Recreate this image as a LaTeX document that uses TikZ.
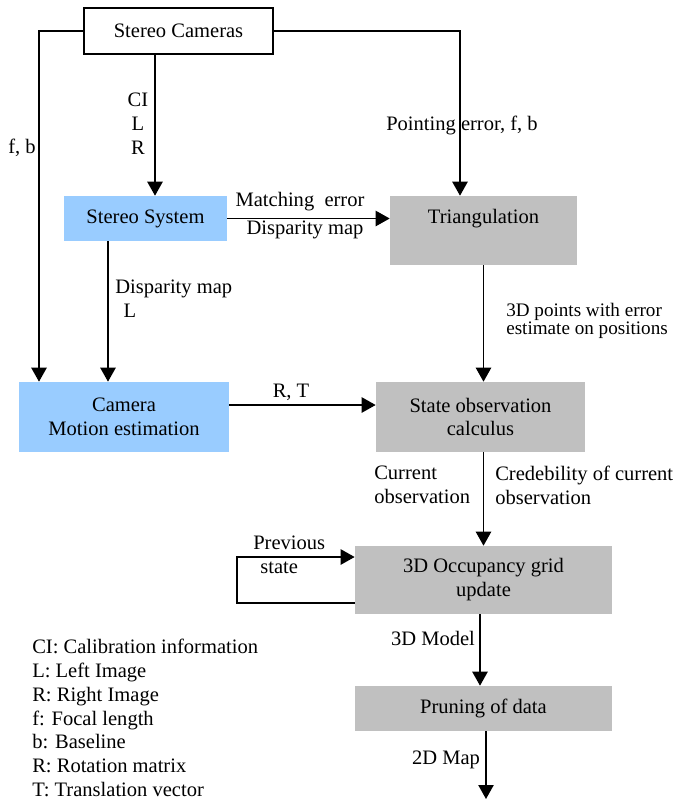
\documentclass[tikz,border=0pt]{standalone}
\usepackage{fontspec}
\setmainfont{Liberation Serif}
\usetikzlibrary{arrows.meta}
\definecolor{bluebox}{RGB}{153,204,255}
\definecolor{graybox}{RGB}{192,192,192}
\newcommand\tightlines{\fontsize{13.6}{13}\selectfont\lineskiplimit=-20pt\relax}
\tikzset{
  arr/.style={-{Triangle[length=0.35cm,width=0.38cm]},line width=1.3pt},
  bluefill/.style={fill=bluebox,align=center,inner sep=0pt},
  grayfill/.style={fill=graybox,align=center,inner sep=0pt},
  txt/.style={inner sep=0pt}
}

\begin{document}
\begin{tikzpicture}[x=0.025cm,y=-0.025cm,font=\fontsize{14.6}{17}\selectfont]
    \useasboundingbox (0,0) rectangle (675,802);
    \node[draw,line width=0.8pt,minimum width=4.725cm,minimum height=1.15cm,inner sep=0pt] (cams) at (178.5,31) {Stereo Cameras};
    \node[bluefill,minimum width=4.075cm,minimum height=1.125cm] (stereo) at (145.5,218.5) {Stereo System};
    \node[grayfill,minimum width=4.675cm,minimum height=1.725cm,text height=0.4cm,text depth=0.775cm] (tri) at (483.5,230.5) {Triangulation};
    \node[bluefill,minimum width=5.25cm,minimum height=1.75cm] (cam) at (124,417) {Camera\\Motion estimation};
    \node[grayfill,minimum width=5.225cm,minimum height=1.75cm] (state) at (480.5,417) {State observation\\calculus};
    \node[grayfill,minimum width=6.425cm,minimum height=1.7cm] (occ) at (483.5,580) {3D Occupancy grid\\update};
    \node[grayfill,minimum width=6.425cm,minimum height=1.125cm] (prune) at (483.5,708.5) {Pruning of data};
%    line positions
    \coordinate (fbx) at (39,0);
    \coordinate (cix) at (155,0);
    \coordinate (ptx) at (460,0);
    \coordinate (dmx) at (108,0);
    \coordinate (rty) at (0,405);
    \coordinate (mdx) at (480,0);
    \coordinate (mpx) at (486,0);
    \coordinate (pa) at (237,603);
    \coordinate (pb) at (237,557);
    \coordinate (out) at (486,799);
    \draw[arr] (cams.west) -| (cam.north -| fbx);
    \draw[arr] (cams.east) -| (tri.north -| ptx);
    \draw[arr] (cams.south -| cix) -- (stereo.north -| cix);
    \draw[arr] (stereo.east) -- (stereo.east -| tri.west);
    \draw[arr] (stereo.south -| dmx) -- (cam.north -| dmx);
    \draw[arr] (tri.south) -- (state.north -| tri.south);
    \draw[arr] (cam.east |- rty) -- (state.west |- rty);
    \draw[arr] (state.south -| occ.north) -- (occ.north);
    \draw[arr] (occ.west |- pa) -- (pa) -- (pb) -- (occ.west |- pb);
    \draw[arr] (occ.south -| mdx) -- (prune.north -| mdx);
    \draw[arr] (prune.south -| mpx) -- (out);
%    labels
    \node[txt] (fb) at (22,148) {f, b};
    \node[txt,align=center] (cilr) at (138,124) {CI\\L\\R};
    \node[txt] (pterr) at (462,125) {Pointing error, f, b};
    \node[txt] (merr) at (300,202) {Matching\ \ error};
    \node[txt] (dmap) at (305,230) {Disparity map};
    \node[txt,align=left,anchor=west] (dmapl) at (115,299) {Disparity map\\\hspace{6pt}L};
    \node[txt,align=left,anchor=west,font=\tightlines] (pts) at (506,321) {3D points with error\\estimate on positions};
    \node[txt] (rt) at (291,392) {R, T};
    \node[txt,align=left,anchor=west] (cur) at (374,485) {Current\\observation};
    \node[txt,align=left,anchor=west] (cred) at (495,485) {Credebility of current\\observation};
    \node[txt,align=left,anchor=west] (prev) at (253,555) {Previous\\\hspace{5pt}state};
    \node[txt] (model) at (433,638) {3D Model};
    \node[txt] (map) at (446,760) {2D Map};
    \node[txt,align=left,anchor=west] (legend) at (32,718) {CI: Calibration information\\L: Left Image\\R: Right Image\\f: Focal length\\b: Baseline\\R: Rotation matrix\\T: Translation vector};
  \end{tikzpicture}
\end{document}
